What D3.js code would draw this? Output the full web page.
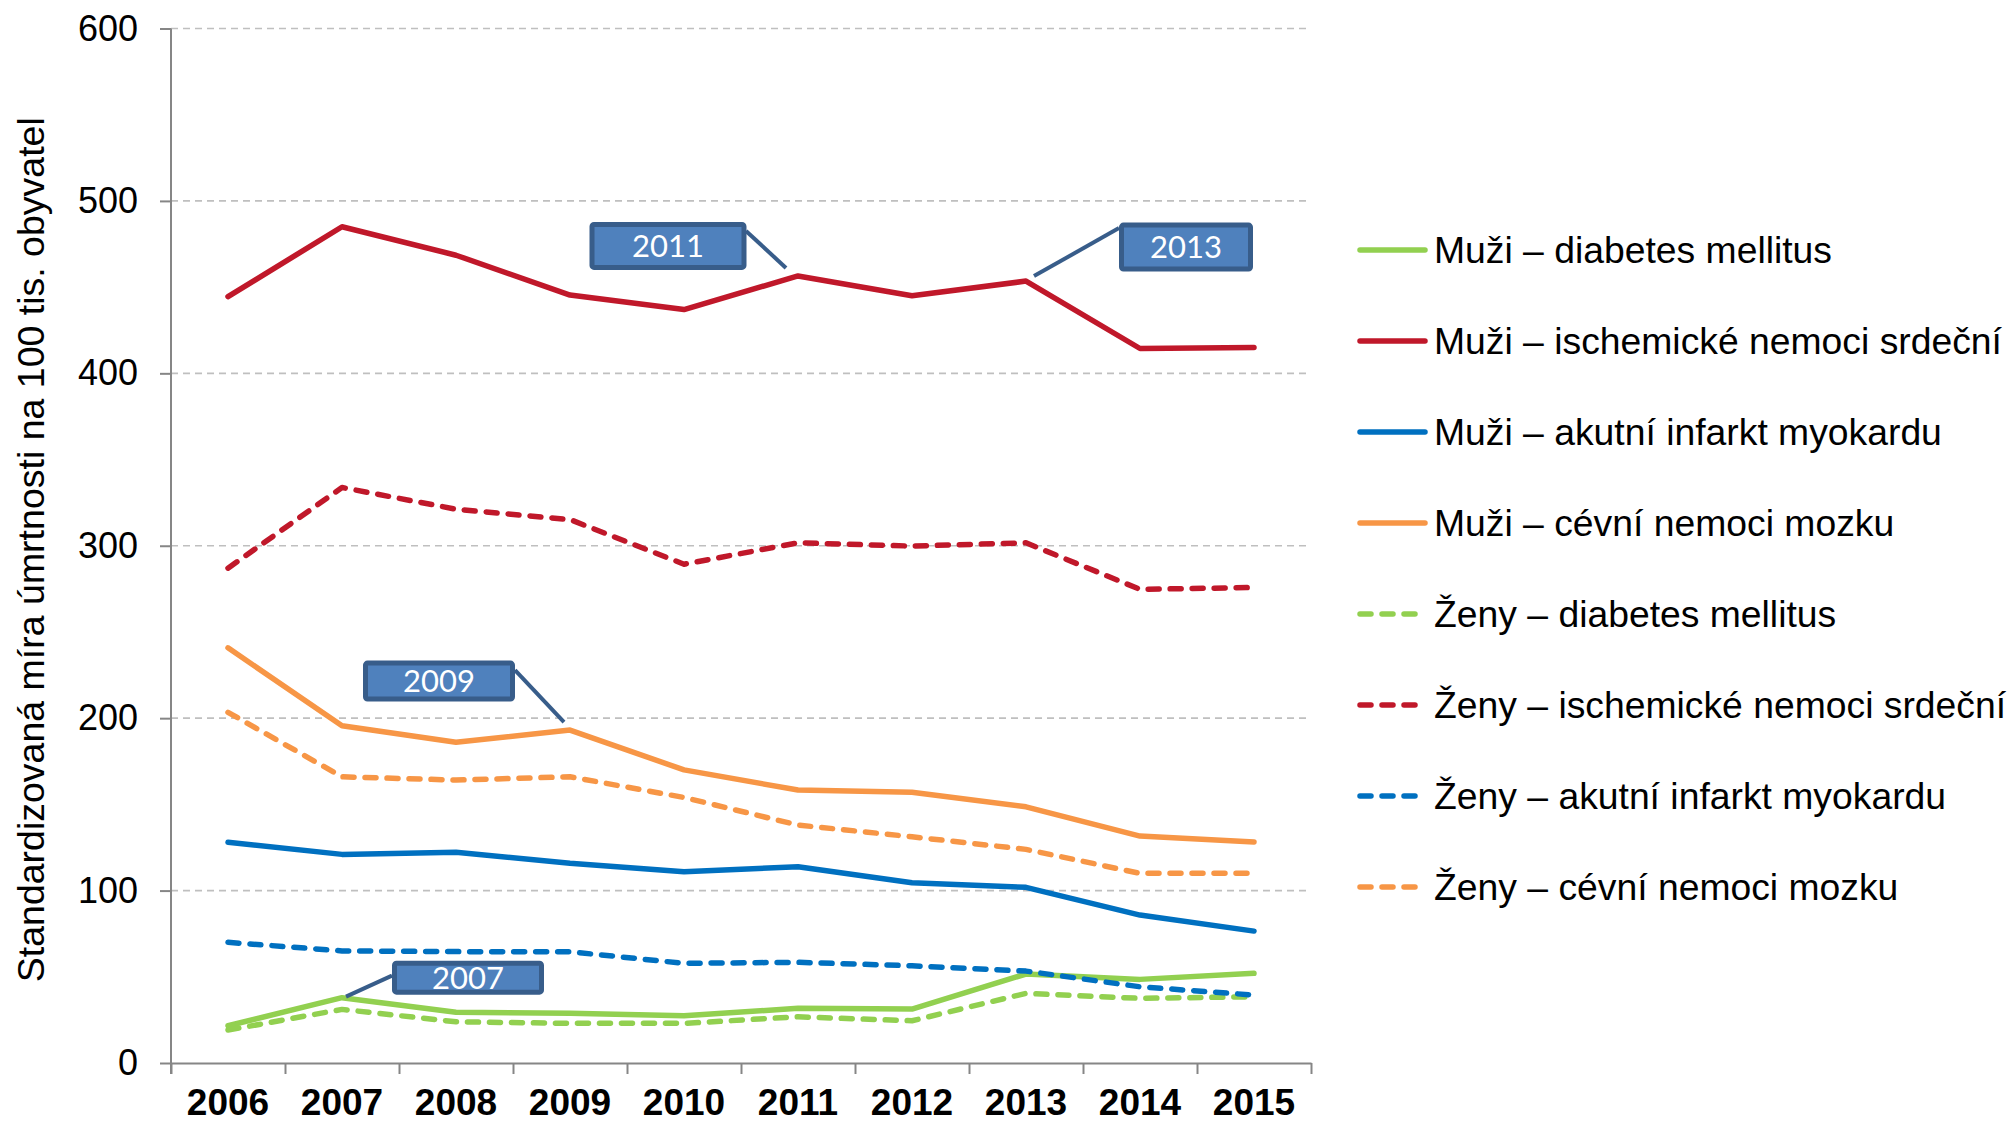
<!DOCTYPE html>
<html>
<head>
<meta charset="utf-8">
<title>Standardizovaná míra úmrtnosti</title>
<script src="https://d3js.org/d3.v7.min.js"></script>
<style>
  body { margin: 0; background: #fff; }
  text { font-family: "Liberation Sans", Arial, sans-serif; }
</style>
</head>
<body>
<div id="graph"></div>
<script>
// data
var years = ["2006", "2007", "2008", "2009", "2010", "2011", "2012", "2013", "2014", "2015"];
var yTicks = [0, 100, 200, 300, 400, 500, 600];

var seriesNames = [
  "Muži – diabetes mellitus",
  "Muži – ischemické nemoci srdeční",
  "Muži – akutní infarkt myokardu",
  "Muži – cévní nemoci mozku",
  "Ženy – diabetes mellitus",
  "Ženy – ischemické nemoci srdeční",
  "Ženy – akutní infarkt myokardu",
  "Ženy – cévní nemoci mozku"
];

var muziDiabetes   = [21.6, 37.9, 29.4, 28.8, 27.4, 31.7, 31.3, 51.6, 48.5, 52.0];
var muziIschemicke = [444.5, 485.0, 468.5, 445.4, 437.0, 456.5, 445.0, 453.5, 414.4, 415.0];
var muziInfarkt    = [128.0, 121.0, 122.2, 115.8, 110.9, 113.8, 104.6, 101.9, 85.8, 76.5];
var muziCevni      = [240.8, 195.6, 186.0, 193.1, 170.0, 158.3, 157.0, 148.6, 131.6, 128.2];
var zenyDiabetes   = [19.1, 31.1, 23.9, 23.0, 23.0, 26.8, 24.5, 40.4, 37.5, 38.4];
var zenyIschemicke = [287.0, 333.8, 321.2, 315.2, 289.3, 301.7, 299.8, 301.7, 274.7, 275.8];
var zenyInfarkt    = [70.0, 65.0, 64.6, 64.5, 57.8, 58.4, 56.4, 53.3, 44.2, 39.4];
var zenyCevni      = [203.4, 166.0, 164.1, 166.0, 154.0, 138.0, 131.2, 123.9, 110.0, 110.0];

var seriesValues = [muziDiabetes, muziIschemicke, muziInfarkt, muziCevni,
                    zenyDiabetes, zenyIschemicke, zenyInfarkt, zenyCevni];

// callouts: label year, which series it points at
var calloutYears = ["2007", "2009", "2011", "2013"];
var calloutSeries = [0, 3, 1, 1];

var colors = ["#92d050", "#c0182a", "#0070c0", "#f79646",
              "#92d050", "#c0182a", "#0070c0", "#f79646"];

var width = 2011, height = 1124;
var plotLeft = 171, plotRight = 1311, plotTop = 28.5, plotBottom = 1063;

var svg = d3.select("#graph").append("svg")
    .attr("width", width)
    .attr("height", height);

var x = d3.scaleBand().domain(years).range([plotLeft, plotRight]).padding(0);
var xEdge = d3.scaleLinear().domain([0, years.length]).range([plotLeft, plotRight]);
var y = d3.scaleLinear().domain([0, 600]).range([plotBottom, plotTop]);

// grid
svg.append("g")
  .selectAll("line")
  .data(yTicks.filter(function(d) { return d > 0; }))
  .enter().append("line")
    .attr("x1", plotLeft).attr("x2", plotRight)
    .attr("y1", function(d) { return y(d); })
    .attr("y2", function(d) { return y(d); })
    .attr("stroke", "#bfbfbf")
    .attr("stroke-width", 1.6)
    .attr("stroke-dasharray", "7,5");

// y axis
var yAxis = svg.append("g")
  .attr("transform", "translate(" + plotLeft + ",0)")
  .call(d3.axisLeft(y).tickValues(yTicks).tickSize(11).tickPadding(22).tickSizeOuter(0));
yAxis.select(".domain").attr("stroke", "#868686").attr("stroke-width", 2)
  .attr("d", "M0," + plotTop + "V" + (plotBottom + 11));
yAxis.selectAll(".tick line").attr("stroke", "#868686").attr("stroke-width", 2);
yAxis.selectAll(".tick text")
  .attr("font-size", 36)
  .attr("fill", "#000")
  .style("font-family", "'Liberation Sans', Arial, sans-serif");

// x axis ticks on band edges
var xAxis = svg.append("g")
  .attr("transform", "translate(0," + plotBottom + ")")
  .call(d3.axisBottom(xEdge).ticks(years.length).tickFormat("").tickSize(11).tickSizeOuter(0));
xAxis.select(".domain").attr("stroke", "#868686").attr("stroke-width", 2);
xAxis.selectAll(".tick line").attr("stroke", "#868686").attr("stroke-width", 2);

// x labels at band centres
var xLab = svg.append("g")
  .attr("transform", "translate(0," + plotBottom + ")")
  .call(d3.axisBottom(x).tickSize(0).tickPadding(0));
xLab.select(".domain").remove();
xLab.selectAll(".tick text")
  .attr("y", 52)
  .attr("dy", 0)
  .attr("font-size", 37)
  .attr("font-weight", "bold")
  .attr("fill", "#000")
  .style("font-family", "'Liberation Sans', Arial, sans-serif");

// y title
svg.append("text")
  .attr("transform", "translate(44," + ((plotTop + plotBottom) / 2 + 4) + ") rotate(-90)")
  .attr("text-anchor", "middle")
  .attr("font-size", 37.5)
  .attr("fill", "#000")
  .text("Standardizovaná míra úmrtnosti na 100 tis. obyvatel");

// lines
var line = d3.line()
  .x(function(d, i) { return x(years[i]) + x.bandwidth() / 2; })
  .y(function(d) { return y(d); });

seriesValues.forEach(function(vals, s) {
  svg.append("path")
    .datum(vals)
    .attr("d", line)
    .attr("fill", "none")
    .attr("stroke", colors[s])
    .attr("stroke-width", 5.5)
    .attr("stroke-linejoin", "round")
    .attr("stroke-linecap", "round")
    .attr("stroke-dasharray", s >= 4 ? "11,11" : null);
});

// legend
var legend = svg.append("g");
seriesNames.forEach(function(name, i) {
  var ly = 250 + i * 91;
  legend.append("line")
    .attr("x1", 1360).attr("x2", 1425)
    .attr("y1", ly).attr("y2", ly)
    .attr("stroke", colors[i])
    .attr("stroke-width", 5.5)
    .attr("stroke-linecap", "round")
    .attr("stroke-dasharray", i >= 4 ? "11,11" : null);
  legend.append("text")
    .attr("x", 1434)
    .attr("y", ly)
    .attr("dy", "0.36em")
    .attr("font-size", 37.3)
    .attr("fill", "#000")
    .text(name);
});

// callouts (box offset from target point, leader start/end offsets)
var calloutLayout = [
  {dx: 126, dy: -20, w: 152, h: 34, sx: -76, sy: -2, ex: 4, ey: -1},
  {dx: -131, dy: -49, w: 152, h: 41, sx: 76, sy: -11, ex: -6, ey: -8},
  {dx: -130, dy: -30, w: 157, h: 48, sx: 78, sy: -15, ex: -12, ey: -8},
  {dx: 160, dy: -34, w: 134, h: 49, sx: -67, sy: -19, ex: 8, ey: -5}
];

calloutYears.forEach(function(yr, k) {
  var L = calloutLayout[k];
  var i = years.indexOf(yr);
  var px = x(yr) + x.bandwidth() / 2;
  var py = y(seriesValues[calloutSeries[k]][i]);
  var cx = px + L.dx, cy = py + L.dy;
  var g = svg.append("g");
  g.append("line")
    .attr("x1", cx + L.sx).attr("y1", cy + L.sy)
    .attr("x2", px + L.ex).attr("y2", py + L.ey)
    .attr("stroke", "#385d8a")
    .attr("stroke-width", 4);
  g.append("rect")
    .attr("x", cx - L.w / 2 + 2.5).attr("y", cy - L.h / 2 + 2.5)
    .attr("width", L.w - 5).attr("height", L.h - 5)
    .attr("rx", 2)
    .attr("fill", "#4f81bd")
    .attr("stroke", "#385d8a")
    .attr("stroke-width", 5);
  g.append("text")
    .attr("x", cx).attr("y", cy)
    .attr("dy", "0.36em")
    .attr("text-anchor", "middle")
    .attr("font-size", 31)
    .attr("fill", "#fff")
    .style("font-family", "Lato, 'Open Sans', sans-serif")
    .text(yr);
});
</script>
</body>
</html>
